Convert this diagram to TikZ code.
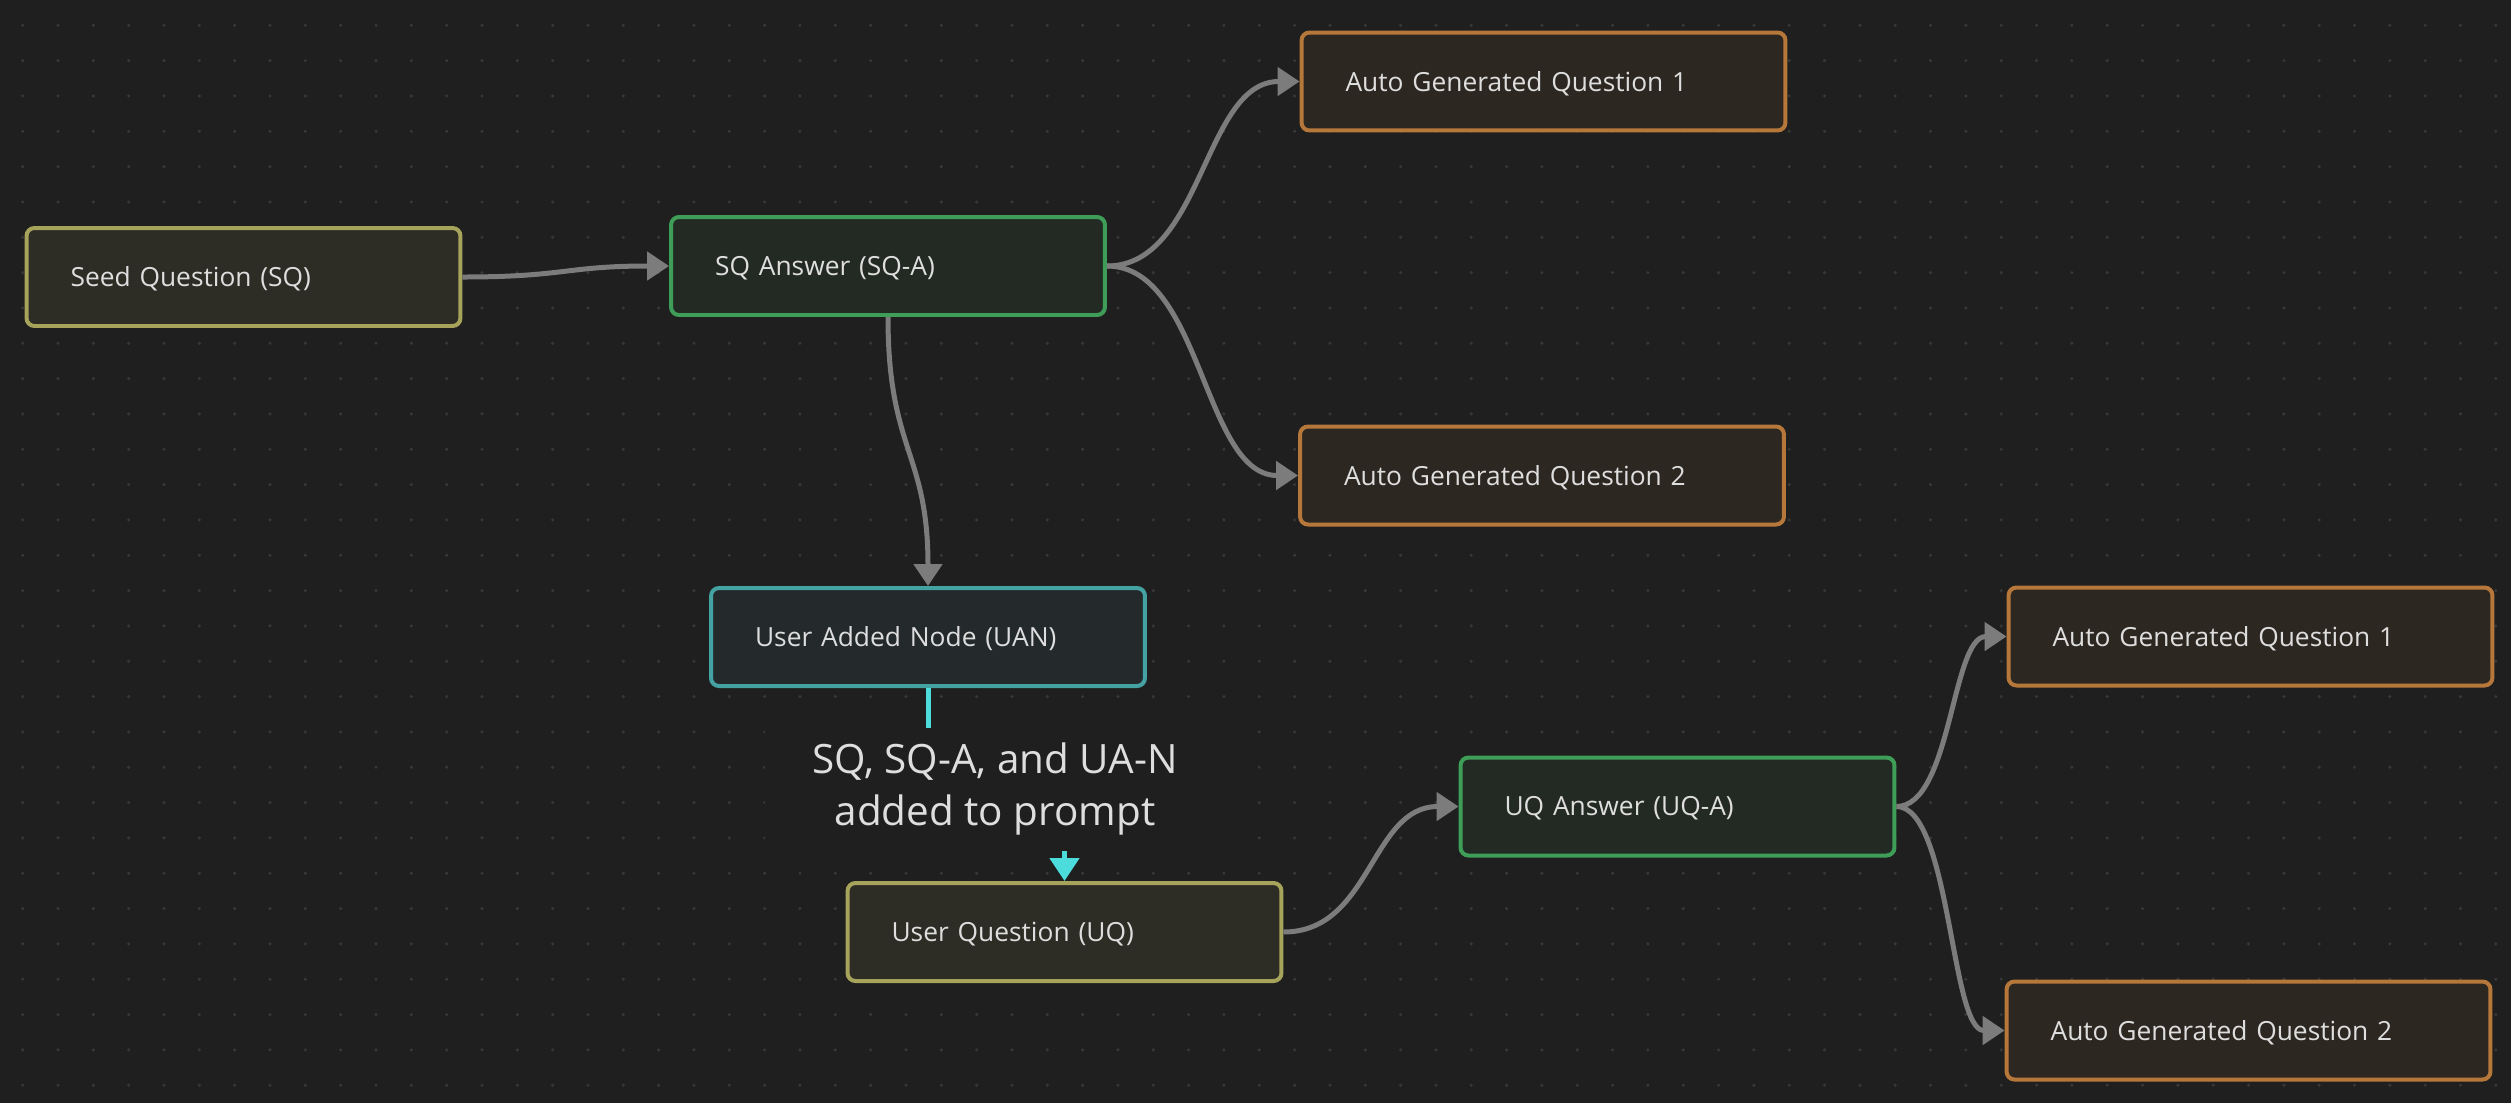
\documentclass[tikz,border=0pt]{standalone}
\usepackage{fontspec}
\setmainfont{Open Sans}
\usetikzlibrary{arrows.meta}

\definecolor{canvas}{HTML}{1F1F1F}
\definecolor{griddot}{HTML}{383838}
\definecolor{nodetext}{HTML}{DEDEDE}
\definecolor{edgegray}{HTML}{7C7C7C}
\definecolor{promptcyan}{HTML}{4DDCDC}
\definecolor{seedline}{HTML}{A6A35A}
\definecolor{seedfill}{HTML}{2D2D25}
\definecolor{answerline}{HTML}{3E9E58}
\definecolor{answerfill}{HTML}{232A24}
\definecolor{autoline}{HTML}{B6783A}
\definecolor{autofill}{HTML}{2D2721}
\definecolor{userline}{HTML}{45A2A2}
\definecolor{userfill}{HTML}{242A2C}

\begin{document}
\begin{tikzpicture}[x=0.02cm,y=-0.02cm]
\tikzset{
  basenode/.style={rectangle,rounded corners=4.5pt,line width=0.08cm,minimum height=1.96cm,
    inner xsep=0.88cm,align=left,text=nodetext,text depth=0.2pt,font=\fontsize{15}{19}\selectfont},
  questionnode/.style={basenode,draw=seedline,fill=seedfill,text width=6.92cm},
  answernode/.style={basenode,draw=answerline,fill=answerfill,text width=6.92cm},
  usernode/.style={basenode,draw=userline,fill=userfill,text width=6.92cm},
  autonode/.style={basenode,draw=autoline,fill=autofill,text width=7.92cm},
  flow/.style={draw=edgegray,line width=0.1cm,-{Triangle[length=0.44cm,width=0.56cm]}},
  promptedge/.style={draw=promptcyan,line width=0.1cm,-{Triangle[length=0.46cm,width=0.58cm]}},
  promptlabel/.style={fill=canvas,minimum width=9.2cm,minimum height=2.46cm,align=center,
    text=nodetext,font=\fontsize{23}{30}\selectfont}
}
% canvas and dot grid
\useasboundingbox (0,0) rectangle (2511,1103);
\fill[canvas] (0,0) rectangle (2511,1103);
\foreach \i in {0,...,70}
  \foreach \j in {0,...,30}
    \fill[griddot] ({22.7+35.33*\i},{25.3+35.33*\j}) circle (0.034cm);

% nodes
\node[questionnode] (sq) at (243.5,277) {Seed Question (SQ)};
\node[answernode] (sqa) at (888,266) {SQ Answer (SQ-A)};
\node[autonode] (agq1) at (1543.5,81.5) {Auto Generated Question 1};
\node[autonode] (agq2) at (1542,475.5) {Auto Generated Question 2};
\node[usernode] (uan) at (928,637) {User Added Node (UAN)};
\node[questionnode] (uq) at (1064.5,932) {User Question (UQ)};
\node[answernode] (uqa) at (1677.5,806.5) {UQ Answer (UQ-A)};
\node[autonode] (agq3) at (2250.5,636.5) {Auto Generated Question 1};
\node[autonode] (agq4) at (2248.5,1030.5) {Auto Generated Question 2};

% edges
\draw[flow] (sq.east) .. controls +(103,0) and +(-103,0) .. (sqa.west);
\draw[flow] (sqa.east) .. controls +(96,0) and +(-96,0) .. (agq1.west);
\draw[flow] (sqa.east) .. controls +(95,0) and +(-95,0) .. (agq2.west);
\draw[flow] (sqa.south) .. controls +(0,134) and +(0,-134) .. (uan.north);
\draw[flow] (uq.east) .. controls +(88,0) and +(-88,0) .. (uqa.west);
\draw[flow] (uqa.east) .. controls +(55,0) and +(-55,0) .. (agq3.west);
\draw[flow] (uqa.east) .. controls +(54,0) and +(-54,0) .. (agq4.west);

% prompt edge with its label on top
\coordinate (mid) at (995,789);
\draw[promptedge] (uan.south) |- (mid) -| (uq.north);
\node[promptlabel] (prompt) at (mid) {SQ, SQ-A, and UA-N\\added to prompt};
\end{tikzpicture}
\end{document}
